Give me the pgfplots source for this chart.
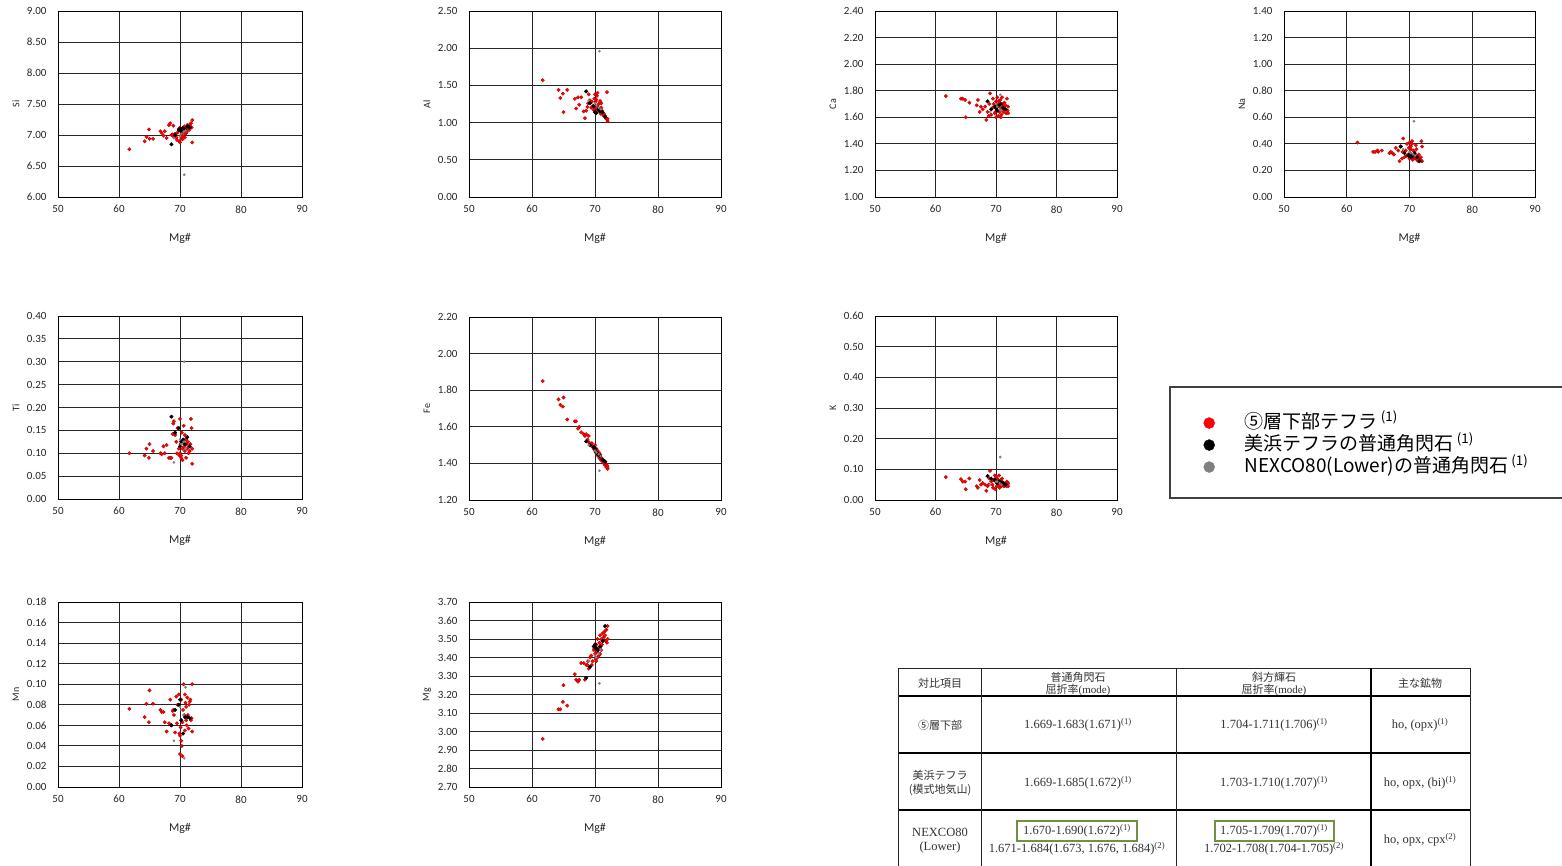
\documentclass[border=0pt]{standalone}
\usepackage{fontspec}
\setmainfont{Liberation Serif}
\newfontfamily\cjk{Noto Sans CJK JP}
\newfontfamily\carlito{Carlito}
\usepackage{pgfplots}
\usepackage{pgfplotstable}
\pgfplotsset{compat=1.18}
\usetikzlibrary{calc}
\definecolor{grn}{RGB}{112,146,64}

\pgfplotstableread{
mg Si Al Ca Na Ti Fe K Mn Mg
61.7 6.77 1.57 1.76 0.41 0.100 1.85 0.075 0.076 2.96
64.2 6.90 1.44 1.74 0.34 0.095 1.75 0.068 0.068 3.12
64.5 6.97 1.33 1.74 0.34 0.110 1.72 0.060 0.081 3.12
64.9 7.09 1.39 1.73 0.35 0.090 1.71 0.060 0.063 3.16
65.0 6.94 1.14 1.60 0.34 0.120 1.76 0.035 0.094 3.25
65.6 6.94 1.44 1.71 0.35 0.105 1.64 0.070 0.081 3.14
66.8 7.06 1.32 1.69 0.33 0.100 1.63 0.045 0.075 3.31
67.0 7.03 1.19 1.73 0.34 0.098 1.63 0.040 0.073 3.28
67.3 6.99 1.34 1.64 0.33 0.115 1.59 0.065 0.073 3.27
67.5 7.06 1.24 1.68 0.32 0.100 1.60 0.050 0.063 3.28
67.8 6.95 1.34 1.66 0.37 0.118 1.57 0.055 0.054 3.37
68.2 7.16 1.15 1.68 0.35 0.090 1.56 0.050 0.062 3.37
68.4 7.19 1.06 1.58 0.27 0.090 1.55 0.030 0.085 3.28
68.6 7.00 1.16 1.64 0.38 0.090 1.56 0.045 0.060 3.36
68.8 7.01 1.21 1.61 0.29 0.142 1.53 0.050 0.074 3.36
68.9 7.15 1.26 1.70 0.34 0.165 1.52 0.070 0.075 3.38
69.0 6.97 1.38 1.78 0.44 0.170 1.55 0.095 0.070 3.34
69.2 7.02 1.30 1.62 0.30 0.140 1.51 0.060 0.053 3.40
69.4 6.96 1.20 1.67 0.35 0.125 1.50 0.050 0.088 3.41
69.5 6.92 1.28 1.74 0.31 0.100 1.51 0.040 0.062 3.36
69.6 7.04 1.22 1.70 0.40 0.155 1.49 0.065 0.080 3.38
69.8 7.10 1.17 1.63 0.32 0.110 1.48 0.080 0.090 3.44
69.9 6.90 1.32 1.64 0.37 0.095 1.49 0.035 0.052 3.45
70.0 6.88 1.38 1.60 0.41 0.175 1.50 0.070 0.032 3.46
70.0 7.12 1.20 1.72 0.29 0.100 1.47 0.075 0.050 3.42
70.1 7.08 1.28 1.66 0.33 0.120 1.46 0.045 0.058 3.39
70.2 6.95 1.14 1.75 0.38 0.095 1.48 0.055 0.085 3.47
70.2 7.00 1.31 1.69 0.36 0.090 1.48 0.070 0.045 3.38
70.3 7.04 1.36 1.68 0.31 0.145 1.45 0.065 0.040 3.43
70.4 7.11 1.22 1.61 0.40 0.110 1.47 0.050 0.063 3.50
70.4 6.93 1.40 1.72 0.42 0.085 1.46 0.045 0.030 3.40
70.5 6.98 1.18 1.70 0.28 0.125 1.44 0.080 0.075 3.45
70.6 7.06 1.25 1.64 0.35 0.160 1.46 0.040 0.100 3.41
70.7 7.14 1.15 1.73 0.30 0.115 1.43 0.060 0.070 3.48
70.8 7.02 1.29 1.67 0.33 0.105 1.45 0.055 0.055 3.52
70.8 6.96 1.19 1.60 0.34 0.140 1.44 0.065 0.090 3.42
70.9 7.09 1.12 1.62 0.29 0.130 1.42 0.045 0.082 3.46
71.0 7.12 1.20 1.70 0.31 0.090 1.43 0.060 0.065 3.50
71.0 7.03 1.26 1.75 0.39 0.130 1.43 0.070 0.078 3.44
71.1 7.05 1.16 1.65 0.36 0.120 1.42 0.050 0.060 3.47
71.2 7.16 1.13 1.68 0.28 0.110 1.41 0.055 0.087 3.53
71.3 7.10 1.10 1.64 0.30 0.125 1.42 0.045 0.070 3.49
71.4 7.13 1.12 1.71 0.27 0.100 1.40 0.050 0.057 3.51
71.5 7.08 1.08 1.66 0.32 0.115 1.41 0.055 0.080 3.54
71.6 7.17 1.09 1.69 0.29 0.105 1.39 0.050 0.083 3.52
71.7 7.14 1.06 1.63 0.28 0.120 1.40 0.045 0.085 3.49
71.8 7.19 1.05 1.74 0.30 0.175 1.38 0.060 0.065 3.55
71.9 7.12 1.41 1.65 0.42 0.155 1.39 0.050 0.067 3.48
72.0 6.88 1.02 1.68 0.38 0.077 1.37 0.045 0.054 3.57
72.0 7.24 1.05 1.63 0.27 0.110 1.38 0.055 0.100 3.50
}\redtab

\pgfplotstableread{
mg Si Al Ca Na Ti Fe K Mn Mg
68.6 6.85 1.42 1.72 0.38 0.180 1.52 0.078 0.060 3.29
69.2 7.00 1.26 1.66 0.33 0.145 1.50 0.070 0.075 3.35
69.8 7.08 1.22 1.68 0.31 0.155 1.49 0.065 0.080 3.46
70.0 7.10 1.14 1.67 0.32 0.115 1.48 0.060 0.085 3.47
70.2 7.06 1.13 1.65 0.30 0.125 1.46 0.055 0.065 3.45
70.5 7.11 1.18 1.69 0.31 0.130 1.45 0.060 0.052 3.44
70.8 7.09 1.15 1.70 0.33 0.120 1.44 0.058 0.068 3.46
71.2 7.14 1.14 1.67 0.30 0.135 1.42 0.055 0.068 3.49
71.6 7.12 1.08 1.66 0.27 0.115 1.41 0.050 0.067 3.57
}\blktab

\pgfplotstableread{
mg Si Al Ca Na Ti Fe K Mn Mg
70.7 6.36 1.96 1.77 0.57 0.300 1.36 0.140 0.028 3.26
70.2 7.02 1.23 1.68 0.33 0.120 1.46 0.060 0.075 3.40
70.6 7.05 1.20 1.66 0.32 0.125 1.45 0.055 0.070 3.42
70.0 6.98 1.26 1.70 0.34 0.130 1.47 0.060 0.078 3.41
69.0 6.95 1.30 1.64 0.36 0.080 1.50 0.050 0.045 3.38
70.9 7.07 1.18 1.65 0.31 0.110 1.44 0.050 0.097 3.44
}\graytab

\pgfplotsset{
  panel/.style={
    scale only axis, anchor=south west,
    xmin=50, xmax=90, xtick={50,60,70,80,90},
    scaled ticks=false,
    grid=major,
    major grid style={draw=black!85, line width=0.85pt},
    axis line style={draw=black, line width=0.9pt},
    major tick length=0pt,
    /pgf/number format/assume math mode=true,
    tick label style={font=\carlito\fontsize{11}{13}\selectfont, text=black!85},
    yticklabel style={/pgf/number format/fixed, /pgf/number format/fixed zerofill,
      /pgf/number format/precision=2, xshift=-8pt},
    xticklabel style={yshift=-5pt},
    xlabel={Mg\#},
    xlabel style={font=\carlito\fontsize{12}{14}\selectfont, text=black!85,
      at={(axis description cs:0.5,0)}, anchor=center, yshift=-41pt},
    ylabel style={font=\carlito\fontsize{10}{12}\selectfont, text=black!85,
      at={($(axis description cs:0,0.5)+(-42pt,0pt)$)}, anchor=center},
  },
  redpts/.style={only marks, mark=*, mark size=1.8pt,
    mark options={fill=red, draw=red!65!black, line width=0.2pt}},
  blkpts/.style={only marks, mark=*, mark size=1.8pt,
    mark options={fill=black, draw=black}},
  graypts/.style={only marks, mark=*, mark size=1.2pt,
    mark options={fill=black!45, draw=black!55, line width=0.2pt}},
}

\newcommand{\panel}[9]{%
\begin{axis}[panel, at={(#3pt,-#4pt)}, width=#5pt, height=#6pt,
  ylabel={#2}, ymin=#7, ymax=#8, ytick={#9}]
\addplot[redpts] table[x=mg,y=#1]{\redtab};
\addplot[blkpts] table[x=mg,y=#1]{\blktab};
\addplot[graypts] table[x=mg,y=#1]{\graytab};
\end{axis}}

\begin{document}
\begin{tikzpicture}
\path[use as bounding box] (0pt,0pt) rectangle (1562pt,-865pt);
\fill[white] (0pt,0pt) rectangle (1562pt,-865pt);

% Row 1
\panel{Si}{Si}{58}{197}{244}{186}{6}{9}{6,6.5,7,7.5,8,8.5,9}
\panel{Al}{Al}{469}{197}{252}{186}{0}{2.5}{0,0.5,1,1.5,2,2.5}
\panel{Ca}{Ca}{875}{197}{242}{186}{1}{2.4}{1,1.2,1.4,1.6,1.8,2,2.2,2.4}
\panel{Na}{Na}{1284}{197}{251}{186}{0}{1.4}{0,0.2,0.4,0.6,0.8,1,1.2,1.4}
% Row 2
\panel{Ti}{Ti}{58}{499}{244}{183}{0}{0.4}{0,0.05,0.1,0.15,0.2,0.25,0.3,0.35,0.4}
\panel{Fe}{Fe}{469}{500}{252}{183}{1.2}{2.2}{1.2,1.4,1.6,1.8,2,2.2}
\begin{axis}[panel, at={(875pt,-500pt)}, width=242pt, height=184pt,
  ylabel={K}, ymin=0, ymax=0.6, ytick={0,0.1,0.2,0.3,0.4,0.5,0.6},
  legend cell align=left,
  legend style={at={(axis description cs:1.345,0.49)}, anchor=north west,
    draw=none, fill=none, font=\cjk\fontsize{19}{22}\selectfont,
    nodes={inner ysep=1pt, text height=15pt, text depth=5pt},
    /tikz/every odd column/.append style={column sep=28pt}}]
\addplot[redpts, forget plot] table[x=mg,y=K]{\redtab};
\addplot[blkpts, forget plot] table[x=mg,y=K]{\blktab};
\addplot[graypts, forget plot] table[x=mg,y=K]{\graytab};
\addlegendimage{only marks, mark=*, mark size=5.5pt, mark options={fill=red, draw=red}}
\addlegendentry{⑤層下部テフラ\,\textsuperscript{(1)}}
\addlegendimage{only marks, mark=*, mark size=5.5pt, mark options={fill=black, draw=black}}
\addlegendentry{美浜テフラの普通角閃石\,\textsuperscript{(1)}}
\addlegendimage{only marks, mark=*, mark size=5.5pt, mark options={fill=black!50, draw=black!50}}
\addlegendentry{NEXCO80(Lower)の普通角閃石\,\textsuperscript{(1)}}
\end{axis}
% Row 3
\panel{Mn}{Mn}{58}{787}{244}{185}{0}{0.18}{0,0.02,0.04,0.06,0.08,0.1,0.12,0.14,0.16,0.18}
\panel{Mg}{Mg}{469}{787}{252}{185}{2.7}{3.7}{2.7,2.8,2.9,3,3.1,3.2,3.3,3.4,3.5,3.6,3.7}

% legend frame
\draw[black!75, line width=1.3pt] (1170pt,-387pt) rectangle (1575pt,-498pt);

% table
\draw[black!85, line width=0.8pt] (898pt,-668pt) -- (1470pt,-668pt);
\draw[black, line width=1.8pt] (898pt,-696pt) -- (1470pt,-696pt);
\draw[black, line width=1.8pt] (898pt,-753pt) -- (1470pt,-753pt);
\draw[black, line width=1.8pt] (898pt,-810pt) -- (1470pt,-810pt);
\draw[black!85, line width=0.8pt] (898pt,-668pt) -- (898pt,-870pt);
\draw[black!85, line width=0.8pt] (981pt,-668pt) -- (981pt,-870pt);
\draw[black!85, line width=1.0pt] (1176pt,-668pt) -- (1176pt,-870pt);
\draw[black, line width=1.8pt] (1371pt,-668pt) -- (1371pt,-870pt);
\draw[black!85, line width=0.8pt] (1470pt,-668pt) -- (1470pt,-870pt);

\begin{scope}[every node/.style={font=\fontsize{12.5}{14}\selectfont, text=black!80, inner sep=0pt}]
\node[font=\cjk\fontsize{11}{13}\selectfont] at (940pt,-683pt) {対比項目};
\node[font=\cjk\fontsize{11}{13}\selectfont] at (1078pt,-677pt) {普通角閃石};
\node[font=\fontsize{11}{13}\selectfont] at (1078pt,-690pt) {{\cjk 屈折率}(mode)};
\node[font=\cjk\fontsize{11}{13}\selectfont] at (1274pt,-677pt) {斜方輝石};
\node[font=\fontsize{11}{13}\selectfont] at (1274pt,-690pt) {{\cjk 屈折率}(mode)};
\node[font=\cjk\fontsize{11}{13}\selectfont] at (1420pt,-683pt) {主な鉱物};

\node[font=\cjk\fontsize{11}{13}\selectfont] at (940pt,-725pt) {⑤層下部};
\node at (1078pt,-725pt) {1.669-1.683(1.671)\textsuperscript{(1)}};
\node at (1274pt,-725pt) {1.704-1.711(1.706)\textsuperscript{(1)}};
\node at (1420pt,-725pt) {ho, (opx)\textsuperscript{(1)}};

\node[font=\cjk\fontsize{11}{13}\selectfont] at (940pt,-775pt) {美浜テフラ};
\node[font=\cjk\fontsize{11}{13}\selectfont] at (940pt,-790pt) {(模式地気山)};
\node at (1078pt,-783pt) {1.669-1.685(1.672)\textsuperscript{(1)}};
\node at (1274pt,-783pt) {1.703-1.710(1.707)\textsuperscript{(1)}};
\node at (1420pt,-783pt) {ho, opx, (bi)\textsuperscript{(1)}};

\node at (940pt,-832pt) {NEXCO80};
\node at (940pt,-847pt) {(Lower)};
\node at (1077pt,-831pt) {1.670-1.690(1.672)\textsuperscript{(1)}};
\node at (1077pt,-849pt) {1.671-1.684(1.673, 1.676, 1.684)\textsuperscript{(2)}};
\node at (1274pt,-831pt) {1.705-1.709(1.707)\textsuperscript{(1)}};
\node at (1274pt,-849pt) {1.702-1.708(1.704-1.705)\textsuperscript{(2)}};
\node at (1420pt,-840pt) {ho, opx, cpx\textsuperscript{(2)}};
\end{scope}
\draw[grn, line width=2.6pt] (1017pt,-821pt) rectangle (1137pt,-841pt);
\draw[grn, line width=2.6pt] (1215pt,-821pt) rectangle (1334pt,-841pt);
\end{tikzpicture}
\end{document}
